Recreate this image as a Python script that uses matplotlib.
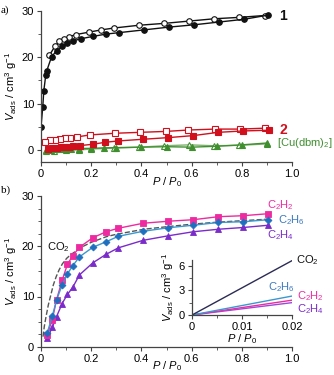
import matplotlib
matplotlib.use("Agg")
from matplotlib import pyplot as plt
from matplotlib.ticker import MultipleLocator

plt.rcParams['font.family'] = ['Liberation Sans', 'DejaVu Sans']
plt.rcParams['mathtext.fontset'] = 'custom'
plt.rcParams['mathtext.rm'] = 'Liberation Sans'
plt.rcParams['mathtext.it'] = 'Liberation Sans:italic'
plt.rcParams['mathtext.bf'] = 'Liberation Sans:bold'
plt.rcParams['font.size'] = 8

# ---- panel a: compound 1 ----
p1_ads = [0.0, 0.007, 0.011, 0.019, 0.023, 0.042, 0.062, 0.084, 0.105, 0.126,
          0.16, 0.207, 0.26, 0.31, 0.41, 0.51, 0.61, 0.71, 0.81, 0.905]
v1_ads = [5.0, 9.3, 12.7, 16.2, 17.1, 20.1, 21.4, 22.4, 23.0, 23.5,
          24.0, 24.5, 25.0, 25.3, 25.9, 26.5, 27.0, 27.6, 28.2, 29.1]
p1_des = [0.89, 0.79, 0.69, 0.59, 0.49, 0.39, 0.29, 0.24, 0.19, 0.14,
          0.11, 0.093, 0.073, 0.056, 0.033]
v1_des = [29.0, 28.6, 28.3, 27.8, 27.3, 26.9, 26.3, 25.9, 25.4, 24.9,
          24.4, 24.0, 23.4, 22.4, 20.4]

# compound 2
p2_ads = [0.027, 0.045, 0.062, 0.08, 0.096, 0.113, 0.129, 0.155, 0.206, 0.255,
          0.307, 0.405, 0.507, 0.607, 0.706, 0.806, 0.906]
v2_ads = [0.2, 0.36, 0.43, 0.57, 0.65, 0.72, 0.79, 0.94, 1.22, 1.65,
          1.94, 2.3, 2.66, 3.1, 3.8, 4.1, 4.25]
p2_des = [0.892, 0.793, 0.693, 0.587, 0.498, 0.394, 0.295, 0.195, 0.142, 0.116,
          0.096, 0.076, 0.056, 0.036, 0.016]
v2_des = [4.7, 4.5, 4.5, 4.3, 4.0, 3.8, 3.6, 3.24, 2.8, 2.66,
          2.5, 2.37, 2.2, 2.16, 1.8]

# [Cu(dbm)2]
p3_ads = [0.02, 0.04, 0.06, 0.08, 0.1, 0.12, 0.15, 0.2, 0.25, 0.3,
          0.4, 0.5, 0.6, 0.7, 0.8, 0.9]
v3_ads = [0.0, 0.05, 0.1, 0.15, 0.2, 0.25, 0.3, 0.35, 0.45, 0.5,
          0.6, 0.7, 0.6, 0.8, 1.1, 1.5]
p3_des = [0.9, 0.79, 0.69, 0.59, 0.49, 0.39, 0.29, 0.2, 0.15, 0.1, 0.05, 0.02]
v3_des = [1.3, 1.0, 0.9, 1.1, 0.9, 0.6, 0.4, 0.2, 0.0, -0.1, -0.2, -0.2]

# ---- panel b: gas isotherms of 1 ----
p_gas = [0.024, 0.045, 0.062, 0.084, 0.105, 0.126, 0.153, 0.206, 0.259, 0.308,
         0.407, 0.507, 0.606, 0.706, 0.805, 0.905]
v_c2h2 = [2.3, 5.4, 9.4, 13.2, 16.4, 18.1, 19.8, 21.7, 22.9, 23.6,
          24.6, 25.0, 25.3, 25.9, 26.1, 26.5]
v_c2h6 = [2.65, 6.1, 9.3, 12.3, 14.5, 16.1, 17.9, 19.8, 20.9, 22.0,
          23.0, 23.7, 24.2, 24.75, 24.9, 25.3]
v_c2h4 = [1.66, 3.85, 6.0, 8.6, 10.4, 11.8, 14.3, 16.7, 18.4, 19.7,
          21.2, 22.1, 22.9, 23.4, 23.75, 24.2]
p_co2 = [0.008, 0.013, 0.02, 0.029, 0.04, 0.049, 0.06, 0.072, 0.085, 0.102, 0.12,
         0.135, 0.168, 0.2, 0.259, 0.3, 0.41, 0.5, 0.6, 0.7, 0.8, 0.9]
v_co2 = [2.0, 4.0, 6.0, 8.3, 10.5, 12.3, 13.9, 15.3, 16.5, 17.6, 18.4,
         18.9, 20.0, 20.8, 21.9, 22.4, 23.4, 23.9, 24.4, 24.8, 25.1, 25.4]

# inset: low pressure slopes
p_low = [0.0, 0.02]
v_low_co2 = [0.0, 6.6]
v_low_c2h6 = [0.0, 2.3]
v_low_c2h2 = [0.0, 1.8]
v_low_c2h4 = [0.0, 1.5]

BLACK = '#111111'
RED = '#d0101c'
GREEN = '#3f8f2f'
MAGENTA = '#ee2aa0'
BLUE = '#1f6fbf'
BLUE_LINE = '#3a98cf'
PURPLE = '#7a2bc9'
NAVY = '#2b2b55'

YLAB = r'$\mathit{V}_{\rm ads}$ / cm$^3$ g$^{-1}$'
XLAB = r'$\mathit{P}$ / $\mathit{P}_0$'


def style(ax):
    for s in ('top', 'right'):
        ax.spines[s].set_visible(False)
    for s in ('left', 'bottom'):
        ax.spines[s].set_color('#444444')
        ax.spines[s].set_linewidth(0.9)
    ax.tick_params(which='both', direction='out', color='#444444', pad=2)
    ax.tick_params(which='major', length=3)
    ax.tick_params(which='minor', length=2)


def xlabel(ax, y):
    ax.set_xlabel(XLAB, va='center')
    ax.xaxis.set_label_coords(0.5, y)


fig = plt.figure(figsize=(3.34, 3.75), dpi=100)

# panel a
ax1 = fig.add_axes([0.1228, 0.568, 0.752, 0.403])
style(ax1)
mk = dict(markersize=4, lw=1.0, markeredgewidth=0.8)
ax1.plot(p3_des, v3_des, '-^', color='#7fb36f', mfc='white', mec=GREEN, **mk)
ax1.plot(p3_ads, v3_ads, '-^', color=GREEN, mfc=GREEN, mec=GREEN, **mk)
ax1.plot(p2_des, v2_des, '-s', color=RED, mfc='white', mec=RED, **mk)
ax1.plot(p2_ads, v2_ads, '-s', color=RED, mfc=RED, mec=RED, **mk)
ax1.plot(p1_des, v1_des, '-o', color=BLACK, mfc='white', mec=BLACK, **mk)
ax1.plot(p1_ads, v1_ads, '-o', color=BLACK, mfc=BLACK, mec=BLACK, **mk)
ax1.set_xlim(0, 1.0)
ax1.set_ylim(-2.6, 30)
ax1.set_xticks([0, 0.2, 0.4, 0.6, 0.8, 1.0])
ax1.set_xticklabels(['0', '0.2', '0.4', '0.6', '0.8', '1.0'])
ax1.xaxis.set_minor_locator(MultipleLocator(0.1))
ax1.set_yticks([0, 10, 20, 30])
ax1.yaxis.set_minor_locator(MultipleLocator(5))
xlabel(ax1, -0.13)
ax1.set_ylabel(YLAB, labelpad=2)
ax1.text(0.95, 29.0, '1', fontsize=10, fontweight='bold', color=BLACK,
         va='center', ha='left', clip_on=False)
ax1.text(0.95, 4.3, '2', fontsize=10, fontweight='bold', color=RED,
         va='center', ha='left', clip_on=False)
ax1.text(0.94, 1.6, r'[Cu(dbm)$_2$]', fontsize=8, color=GREEN,
         va='center', ha='left', clip_on=False)

# panel b
ax2 = fig.add_axes([0.1228, 0.0755, 0.752, 0.4015])
style(ax2)
mk2 = dict(markersize=4, lw=1.0, markeredgewidth=0.6)
ax2.plot(p_co2, v_co2, '--', color='#555555', lw=1.0)
ax2.plot(p_gas, v_c2h4, '-^', color=PURPLE, mfc=PURPLE, mec=PURPLE, **mk2)
ax2.plot(p_gas, v_c2h2, '-s', color=MAGENTA, mfc=MAGENTA, mec=MAGENTA, **mk2)
ax2.plot(p_gas, v_c2h6, '-D', color=BLUE_LINE, mfc=BLUE, mec=BLUE,
         markersize=3.5, lw=1.0, markeredgewidth=0.6)
ax2.set_xlim(0, 1.0)
ax2.set_ylim(0, 30)
ax2.set_xticks([0, 0.2, 0.4, 0.6, 0.8, 1.0])
ax2.set_xticklabels(['0', '0.2', '0.4', '0.6', '0.8', '1.0'])
ax2.xaxis.set_minor_locator(MultipleLocator(0.1))
ax2.set_yticks([0, 10, 20, 30])
ax2.yaxis.set_minor_locator(MultipleLocator(2.5))
xlabel(ax2, -0.128)
ax2.set_ylabel(YLAB, labelpad=2)
ax2.text(0.899, 28.2, r'C$_2$H$_2$', color=MAGENTA, va='center', ha='left', clip_on=False)
ax2.text(0.943, 25.2, r'C$_2$H$_6$', color='#3a78c0', va='center', ha='left', clip_on=False)
ax2.text(0.899, 22.2, r'C$_2$H$_4$', color=PURPLE, va='center', ha='left', clip_on=False)
ax2.text(0.023, 19.9, r'CO$_2$', color=BLACK, va='center', ha='left')

# inset
ax3 = fig.add_axes([0.575, 0.16, 0.299, 0.147])
style(ax3)
ax3.patch.set_alpha(0)
ax3.plot(p_low, v_low_c2h4, color='#9a4ad8', lw=1.0)
ax3.plot(p_low, v_low_c2h2, color=MAGENTA, lw=1.0)
ax3.plot(p_low, v_low_c2h6, color=BLUE_LINE, lw=1.0)
ax3.plot(p_low, v_low_co2, color=NAVY, lw=1.0)
ax3.set_xlim(0, 0.02)
ax3.set_ylim(0, 6.7)
ax3.set_xticks([0, 0.01, 0.02])
ax3.set_xticklabels(['0', '0.01', '0.02'])
ax3.xaxis.set_minor_locator(MultipleLocator(0.005))
ax3.set_yticks([0, 3, 6])
ax3.yaxis.set_minor_locator(MultipleLocator(1.5))
ax3.set_xlabel(XLAB, labelpad=0)
ax3.set_ylabel(YLAB, labelpad=2)
ax3.text(0.0209, 6.7, r'CO$_2$', color=BLACK, va='center', ha='left', clip_on=False)
ax3.text(0.0153, 3.4, r'C$_2$H$_6$', color='#3a78c0', va='center', ha='left', clip_on=False)
ax3.text(0.021, 2.35, r'C$_2$H$_2$', color=MAGENTA, va='center', ha='left', clip_on=False)
ax3.text(0.021, 0.7, r'C$_2$H$_4$', color=PURPLE, va='center', ha='left', clip_on=False)

fig.text(0.003, 0.985, 'a)', family='Liberation Serif', fontsize=8, va='top', ha='left')
fig.text(0.003, 0.505, 'b)', family='Liberation Serif', fontsize=8, va='top', ha='left')

fig.savefig('out.png', dpi=100)
